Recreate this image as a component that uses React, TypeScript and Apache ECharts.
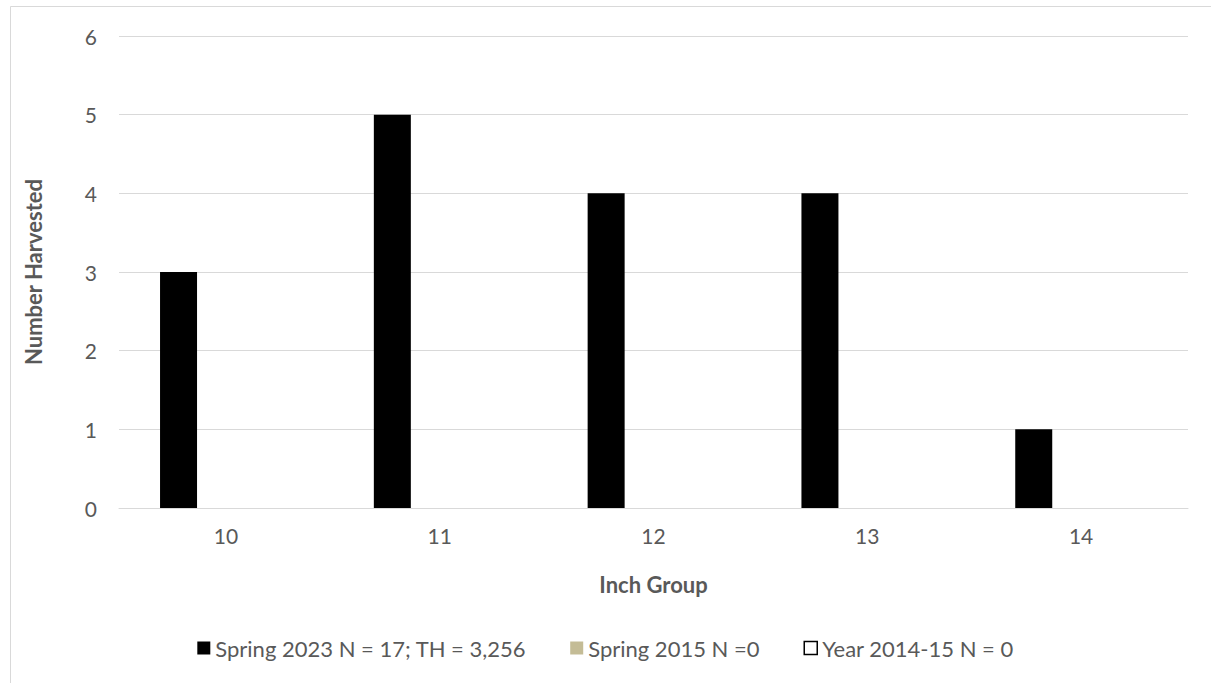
import React, { useEffect, useRef } from "react";
import * as echarts from "echarts";

const categories = ["10", "11", "12", "13", "14"];
const spring2023 = [3, 5, 4, 4, 1];
const spring2015 = [0, 0, 0, 0, 0];
const year201415 = [0, 0, 0, 0, 0];
const seriesNames = [
  "Spring 2023 N = 17; TH = 3,256",
  "Spring 2015 N =0",
  "Year 2014-15 N = 0",
];

const FONT = "Lato, sans-serif";
const TEXT = "#595959";

export default function App() {
  const ref = useRef<HTMLDivElement>(null);

  useEffect(() => {
    if (!ref.current) return;
    const chart = echarts.init(ref.current, null, { renderer: "svg" });
    chart.setOption({
      animation: false,
      backgroundColor: "#ffffff",
      textStyle: { fontFamily: FONT },
      graphic: [
        {
          type: "rect",
          shape: { x: 10.5, y: 6.5, width: 1400, height: 900 },
          style: { fill: "none", stroke: "#d9d9d9", lineWidth: 1 },
          silent: true,
        },
      ],
      grid: { left: 119, right: 23, top: 36, bottom: 175 },
      legend: {
        top: 631,
        left: "center",
        icon: "rect",
        itemWidth: 13,
        itemHeight: 13,
        itemGap: 44,
        textStyle: { fontSize: 22, lineHeight: 24, color: TEXT, fontFamily: FONT },
        data: [
          { name: seriesNames[0] },
          { name: seriesNames[1] },
          {
            name: seriesNames[2],
            itemStyle: { color: "#ffffff", borderColor: "#000000", borderWidth: 1.5 },
          },
        ],
      },
      xAxis: {
        type: "category",
        data: categories,
        name: "Inch Group",
        nameLocation: "middle",
        nameGap: 65,
        nameTextStyle: { fontSize: 22, fontWeight: "bold", color: TEXT, fontFamily: FONT },
        axisLine: { lineStyle: { color: "#d9d9d9" } },
        axisTick: { show: false },
        axisLabel: { fontSize: 21, color: TEXT, margin: 17, fontFamily: FONT },
      },
      yAxis: {
        type: "value",
        min: 0,
        max: 6,
        interval: 1,
        name: "Number Harvested",
        nameLocation: "middle",
        nameGap: 75,
        nameTextStyle: { fontSize: 22, fontWeight: "bold", color: TEXT, fontFamily: FONT },
        axisLine: { show: false },
        axisTick: { show: false },
        axisLabel: { fontSize: 21, color: TEXT, margin: 22, fontFamily: FONT },
        splitLine: { lineStyle: { color: "#d9d9d9", width: 1 } },
      },
      series: [
        {
          name: seriesNames[0],
          type: "bar",
          data: spring2023,
          barWidth: 37,
          barGap: "28%",
          itemStyle: { color: "#000000" },
        },
        {
          name: seriesNames[1],
          type: "bar",
          data: spring2015,
          barWidth: 37,
          itemStyle: { color: "#c4bc96" },
        },
        {
          name: seriesNames[2],
          type: "bar",
          data: year201415,
          barWidth: 37,
          itemStyle: { color: "#ffffff" },
        },
      ],
    });
    return () => chart.dispose();
  }, []);

  return (
    <div
      ref={ref}
      style={{ position: "absolute", left: 0, top: 0, width: 1211, height: 683 }}
    />
  );
}
